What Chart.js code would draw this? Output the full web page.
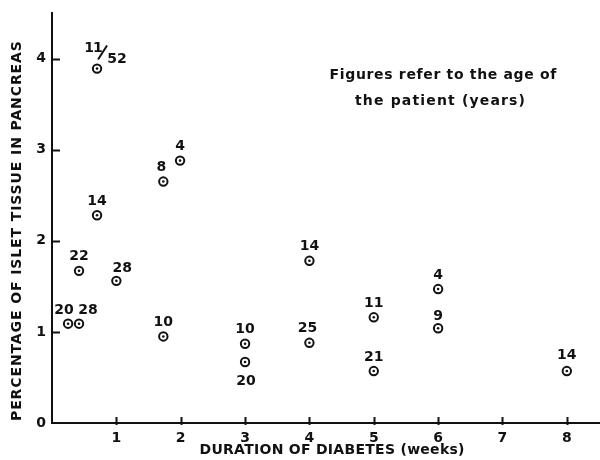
<!DOCTYPE html>
<html>
<head>
<meta charset="utf-8">
<script src="https://cdn.jsdelivr.net/npm/chart.js@4.4.0/dist/chart.umd.min.js"></script>
<style>
    html, body { margin: 0; padding: 0; background: #fff; }
    #wrap { width: 600px; height: 460px; }
</style>
</head>
<body>
<div id="wrap"><canvas id="islets"></canvas></div>
<script>
(function(){
    "use strict";

    // duration of diabetes in weeks, one entry per case
    const durationWeeks = [0.7, 0.7, 1.73, 1.99, 0.42, 1.0, 0.25, 0.42, 1.73, 3, 3, 4, 4, 5, 5, 6, 6, 8];
    // percentage of islet tissue found in the pancreas
    const isletPercent = [3.89, 2.28, 2.65, 2.88, 1.67, 1.56, 1.09, 1.09, 0.95, 0.87, 0.67, 1.78, 0.88, 1.16, 0.57, 1.47, 1.04, 0.57];
    // age of the patient (years) written next to each point
    const patientAges = ["11/52", "14", "8", "4", "22", "28", "20", "28", "10", "10", "20", "14", "25", "11", "21", "4", "9", "14"];

    const xTickValues = [1, 2, 3, 4, 5, 6, 7, 8];
    const yTickValues = [0, 1, 2, 3, 4];

    const xTitle = "DURATION OF DIABETES (weeks)";
    const yTitle = "PERCENTAGE OF ISLET TISSUE IN PANCREAS";
    const noteLines = ["Figures refer to the age of", "the patient (years)"];

    // where the age label goes around its point
    const agePlacement = ["fraction", "above", "aboveLeft", "above", "above", "aboveRight", "farLeft", "farRight",
        "above", "above", "below", "above", "aboveLeft", "above", "above", "above", "aboveLow", "aboveHigh"];

    const FONT = "'DejaVu Sans', sans-serif";
    const INK = "#111";

    const offsets = {
        above: [0, -14],
        aboveLow: [0, -12],
        aboveHigh: [0, -16],
        aboveLeft: [-2, -14],
        aboveRight: [6, -13],
        farLeft: [-4, -13],
        farRight: [9, -13],
        below: [1, 19]
    };

    /**
     * Write text spread out so that it fills the given width, centred on (x, y).
     */
    function spacedText(ctx, text, x, y, width) {
        ctx.letterSpacing = "0px";
        const natural = ctx.measureText(text).width;
        const gap = Math.max(0, (width - natural) / (text.length - 1));
        ctx.letterSpacing = gap.toFixed(2) + "px";
        ctx.textAlign = "left";
        ctx.fillText(text, x - width / 2, y);
        ctx.letterSpacing = "0px";
    }

    /**
     * Inward tick marks on both axes, the way they were drawn by hand.
     */
    const innerTicks = {
        id: "innerTicks",
        afterDraw(chart) {
            const ctx = chart.ctx;
            const area = chart.chartArea;
            const xs = chart.scales.x;
            const ys = chart.scales.y;
            ctx.save();
            ctx.strokeStyle = INK;
            ctx.lineWidth = 2;
            xTickValues.forEach(v => {
                const px = Math.round(xs.getPixelForValue(v)) + 0.5;
                ctx.beginPath();
                ctx.moveTo(px, area.bottom + 2);
                ctx.lineTo(px, area.bottom - 6);
                ctx.stroke();
            });
            yTickValues.filter(v => v > 0).forEach(v => {
                const py = Math.round(ys.getPixelForValue(v)) + 0.5;
                ctx.beginPath();
                ctx.moveTo(area.left, py);
                ctx.lineTo(area.left + 8, py);
                ctx.stroke();
            });
            ctx.restore();
        }
    };

    /**
     * Age labels beside each ring, axis titles and the note in the upper right.
     */
    const ageLabels = {
        id: "ageLabels",
        afterDatasetsDraw(chart) {
            const ctx = chart.ctx;
            const points = chart.getDatasetMeta(0).data;
            ctx.save();
            ctx.fillStyle = INK;
            ctx.strokeStyle = INK;
            ctx.font = "bold 14px " + FONT;
            ctx.textAlign = "center";
            ctx.textBaseline = "middle";
            points.forEach((pt, i) => {
                const place = agePlacement[i];
                const text = patientAges[i];
                if (place === "fraction") {
                    const parts = text.split("/");
                    ctx.letterSpacing = "-1px";
                    ctx.fillText(parts[0], pt.x - 4, pt.y - 20);
                    ctx.letterSpacing = "0px";
                    ctx.lineWidth = 2;
                    ctx.beginPath();
                    ctx.moveTo(pt.x + 1, pt.y - 9);
                    ctx.lineTo(pt.x + 10, pt.y - 23);
                    ctx.stroke();
                    ctx.fillText(parts[1], pt.x + 20, pt.y - 9);
                    return;
                }
                const off = offsets[place];
                ctx.fillText(text, pt.x + off[0], pt.y + off[1]);
            });

            // note on what the numbers mean
            spacedText(ctx, noteLines[0], 443, 75, 227);
            spacedText(ctx, noteLines[1], 440, 101, 170);

            // axis titles
            spacedText(ctx, xTitle, 332, 450, 265);
            ctx.translate(17, 231);
            ctx.rotate(-Math.PI / 2);
            spacedText(ctx, yTitle, 0, 0, 380);
            ctx.restore();
        }
    };

    function axisTicks(values) {
        return scale => { scale.ticks = values.map(v => ({ value: v })); };
    }

    function fixBox(size) {
        return scale => {
            if (scale.isHorizontal()) {
                scale.height = size;
            } else {
                scale.width = size;
            }
            scale.paddingLeft = 0;
            scale.paddingRight = 0;
            scale.paddingTop = 0;
            scale.paddingBottom = 0;
        };
    }

    const points = durationWeeks.map((d, i) => ({ x: d, y: isletPercent[i] }));

    function createChart() {
        const ctx = document.getElementById("islets").getContext("2d");
        return new Chart(ctx, {
            type: "scatter",
            data: {
                datasets: [{
                    data: points,
                    order: 2,
                    pointRadius: 4.2,
                    pointBorderWidth: 2,
                    pointBorderColor: INK,
                    pointBackgroundColor: "#fff"
                }, {
                    // centre dot inside each ring
                    data: points,
                    order: 1,
                    pointRadius: 1.3,
                    pointBorderWidth: 0,
                    pointBackgroundColor: INK
                }]
            },
            options: {
                responsive: true,
                maintainAspectRatio: false,
                animation: false,
                events: [],
                layout: {
                    autoPadding: false,
                    padding: { top: 13, right: 1, left: 0, bottom: 0 }
                },
                plugins: {
                    legend: { display: false },
                    tooltip: { enabled: false }
                },
                scales: {
                    x: {
                        type: "linear",
                        min: 0,
                        max: 8.5,
                        afterBuildTicks: axisTicks(xTickValues),
                        afterFit: fixBox(37),
                        grid: { drawOnChartArea: false, drawTicks: false },
                        border: { color: INK, width: 2 },
                        ticks: {
                            color: INK,
                            padding: 7,
                            font: { family: FONT, size: 14, weight: "bold" }
                        }
                    },
                    y: {
                        min: 0,
                        max: 4.5,
                        afterBuildTicks: axisTicks(yTickValues),
                        afterFit: fixBox(52),
                        grid: { drawOnChartArea: false, drawTicks: false },
                        border: { color: INK, width: 2 },
                        ticks: {
                            color: INK,
                            padding: 6,
                            font: { family: FONT, size: 14, weight: "bold" }
                        }
                    }
                }
            },
            plugins: [innerTicks, ageLabels]
        });
    }

    createChart();
})();
</script>
</body>
</html>
